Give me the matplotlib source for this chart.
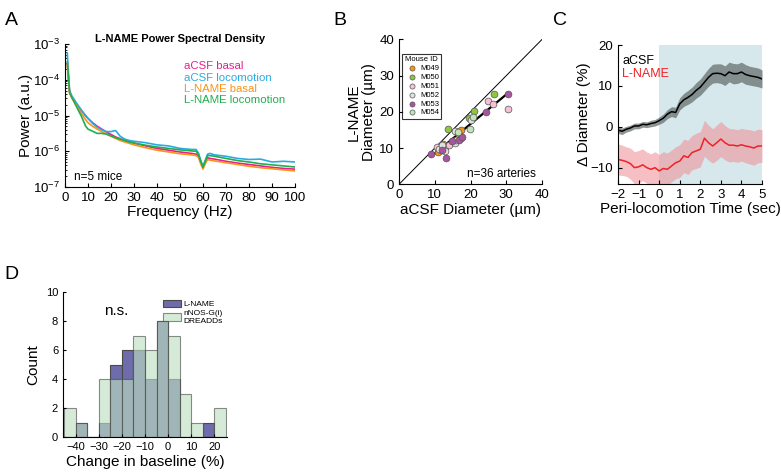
import matplotlib.pyplot as plt
import numpy as np

plt.rcParams['font.family'] = ['Liberation Sans', 'DejaVu Sans']
plt.rcParams['mathtext.default'] = 'regular'
plt.rcParams['xtick.direction'] = 'in'
plt.rcParams['ytick.direction'] = 'in'
plt.rcParams['axes.linewidth'] = 0.8

# ---- panel A: power spectral density (log10 power) ----
freq = [1, 2, 3, 4, 5, 6, 7, 8, 9, 10, 12, 14, 16, 18, 20, 22, 24, 26, 28, 30,
        35, 40, 45, 50, 55, 57, 58, 59, 60, 61, 62, 63, 65, 70, 75, 80, 85, 90, 95, 100]
acsf_basal = [-3.55, -4.35, -4.5, -4.6, -4.68, -4.78, -4.86, -4.93, -5.01, -5.08, -5.2, -5.3,
              -5.38, -5.46, -5.53, -5.6, -5.65, -5.7, -5.74, -5.77, -5.85, -5.92, -5.97, -6.02,
              -6.06, -6.08, -6.12, -6.3, -6.45, -6.3, -6.18, -6.2, -6.22, -6.28, -6.33, -6.37,
              -6.41, -6.45, -6.48, -6.5]
acsf_loco = [-3.25, -4.3, -4.45, -4.55, -4.65, -4.74, -4.83, -4.92, -5.0, -5.08, -5.22, -5.33,
             -5.4, -5.45, -5.45, -5.42, -5.58, -5.66, -5.7, -5.72, -5.76, -5.82, -5.85, -5.92,
             -5.95, -5.95, -6.05, -6.25, -6.42, -6.25, -6.08, -6.06, -6.1, -6.14, -6.2, -6.23,
             -6.22, -6.3, -6.28, -6.3]
lname_basal = [-3.55, -4.38, -4.5, -4.62, -4.72, -4.82, -4.92, -5.02, -5.12, -5.2, -5.3, -5.38,
               -5.45, -5.52, -5.58, -5.64, -5.7, -5.74, -5.78, -5.82, -5.9, -5.97, -6.02, -6.07,
               -6.1, -6.12, -6.17, -6.35, -6.5, -6.35, -6.23, -6.25, -6.27, -6.32, -6.37, -6.42,
               -6.46, -6.49, -6.52, -6.55]
lname_loco = [-3.5, -4.35, -4.5, -4.62, -4.75, -4.88, -5.0, -5.15, -5.3, -5.38, -5.44, -5.5,
              -5.5, -5.52, -5.57, -5.62, -5.66, -5.7, -5.74, -5.77, -5.83, -5.88, -5.92, -5.96,
              -5.99, -6.0, -6.08, -6.28, -6.45, -6.28, -6.12, -6.12, -6.14, -6.2, -6.26, -6.3,
              -6.35, -6.38, -6.41, -6.44]

# ---- panel B: artery diameters ----
mice = ['M049', 'M050', 'M051', 'M052', 'M053', 'M054']
mouse_colors = ['#F7941D', '#8DC63F', '#F7C0D5', '#E2E2E2', '#A8559F', '#C2E3B8']
acsf_diam = {
    'M049': [12.2, 10.9, 12.8, 16.2, 17.4, 16.9, 17.2],
    'M050': [13.7, 19.5, 20.9, 26.5],
    'M051': [10.6, 11.8, 14.1, 24.9, 26.3, 30.5, 15.0],
    'M052': [11.1, 12.8, 15.8, 16.0, 15.8, 20.2, 12.0],
    'M053': [9.0, 11.9, 13.1, 14.8, 16.9, 17.6, 24.4, 30.5],
    'M054': [16.5, 19.9, 20.6],
}
lname_diam = {
    'M049': [11.1, 9.0, 10.4, 14.5, 15.0, 13.6, 12.8],
    'M050': [15.4, 18.4, 20.3, 24.8],
    'M051': [10.3, 9.5, 10.8, 23.0, 22.1, 20.7, 12.0],
    'M052': [9.7, 9.3, 11.3, 12.2, 14.7, 17.7, 10.8],
    'M053': [8.4, 9.6, 7.3, 11.9, 12.2, 13.1, 20.0, 24.8],
    'M054': [14.5, 15.2, 18.6],
}

# ---- panel C: peri-locomotion diameter change ----
t = np.round(np.arange(-2, 5.01, 0.2), 1)
acsf_mean = [-0.8, -1.1, -0.6, -0.3, 0.2, 0.2, 0.6, 0.5, 0.8, 1.0, 1.5, 2.1, 3.1, 3.7, 3.5, 5.6,
             6.6, 7.2, 7.9, 8.9, 9.7, 10.9, 12.1, 13.0, 13.1, 13.0, 12.5, 13.4, 13.0, 13.0, 13.4,
             12.8, 12.5, 12.3, 12.1, 11.7]
acsf_sem = [0.8, 0.8, 0.7, 0.7, 0.7, 0.7, 0.7, 0.7, 0.8, 0.8, 0.9, 1.0, 1.1, 1.2, 1.3, 1.5, 1.6,
            1.7, 1.8, 1.9, 2.0, 2.1, 2.2, 2.3, 2.3, 2.4, 2.4, 2.4, 2.5, 2.4, 2.4, 2.4, 2.3, 2.3,
            2.3, 2.2]
lname_mean = [-8.0, -8.2, -8.5, -9.0, -10.0, -9.8, -9.3, -10.0, -10.4, -10.0, -10.8, -10.2,
              -10.4, -9.6, -8.8, -8.4, -7.1, -7.5, -6.3, -5.9, -5.5, -2.8, -3.9, -4.7, -3.9,
              -3.0, -3.9, -4.5, -4.5, -4.7, -4.4, -4.7, -4.9, -5.2, -4.7, -4.7]
lname_sem = [3.8, 3.7, 3.6, 3.8, 3.9, 4.0, 3.9, 3.8, 3.8, 3.9, 4.0, 4.1, 4.0, 3.9, 3.9, 4.0, 4.1,
             4.2, 4.2, 4.3, 4.3, 4.4, 4.3, 4.2, 4.3, 4.3, 4.2, 4.1, 4.0, 4.0, 4.0, 4.1, 4.2, 4.2,
             4.1, 4.0]

# ---- panel D: baseline change histogram ----
bin_left = [-45, -40, -35, -30, -25, -20, -15, -10, -5, 0, 5, 10, 15, 20]
lname_counts = [0, 1, 0, 1, 5, 6, 6, 4, 8, 4, 0, 0, 1, 0]
dreadd_counts = [2, 1, 0, 4, 4, 4, 7, 6, 8, 7, 3, 1, 0, 2]

fig = plt.figure(figsize=(7.81, 4.75), dpi=100)

# A
axA = fig.add_axes([0.0832, 0.6063, 0.2945, 0.301])
psd_colors = ['#EC1C8C', '#29ABE2', '#F7941D', '#1FAF4B']
psd_names = ['aCSF basal', 'aCSF locomotion', 'L-NAME basal', 'L-NAME locomotion']
for vals, c, name in zip([acsf_basal, acsf_loco, lname_basal, lname_loco], psd_colors, psd_names):
    axA.plot(freq, 10 ** np.array(vals), color=c, lw=1.2, label=name)
axA.set_yscale('log')
axA.set_ylim(1e-7, 1e-3)
axA.set_xlim(0, 100)
axA.set_xticks(range(0, 101, 10))
axA.set_yticks([1e-7, 1e-6, 1e-5, 1e-4, 1e-3])
axA.tick_params(labelsize=9.5, length=3)
axA.tick_params(which='minor', length=1.5)
axA.set_xlabel('Frequency (Hz)', fontsize=11, labelpad=1)
axA.set_ylabel('Power (a.u.)', fontsize=11, labelpad=0)
axA.set_title('L-NAME Power Spectral Density', fontsize=8, fontweight='bold', pad=0)
axA.legend(handlelength=0, handletextpad=0, labelcolor='linecolor', frameon=False,
           fontsize=8.2, loc='upper right', bbox_to_anchor=(1.0, 0.95), labelspacing=0.1)
axA.text(0.04, 0.05, 'n=5 mice', transform=axA.transAxes, fontsize=8.5)
for s in ['top', 'right']:
    axA.spines[s].set_visible(False)

# B
axB = fig.add_axes([0.5109, 0.612, 0.1831, 0.305])
axB.plot([0, 40], [0, 40], color='black', lw=0.7)
all_x = np.concatenate([acsf_diam[m] for m in mice])
all_y = np.concatenate([lname_diam[m] for m in mice])
slope, icpt = np.polyfit(all_x, all_y, 1)
xs = np.array([all_x.min(), all_x.max()])
axB.plot(xs, slope * xs + icpt, color='black', lw=1.6)
for m, c in zip(mice, mouse_colors):
    axB.scatter(acsf_diam[m], lname_diam[m], s=24, color=c, edgecolor='#555555',
                linewidth=0.5, zorder=3, label=m)
axB.set_xlim(0, 40)
axB.set_ylim(0, 40)
axB.set_xticks(range(0, 41, 10))
axB.set_yticks(range(0, 41, 10))
axB.tick_params(labelsize=9.5, length=3)
axB.set_xlabel('aCSF Diameter (\u00b5m)', fontsize=11, labelpad=1)
axB.set_ylabel('L-NAME\nDiameter (\u00b5m)', fontsize=11, labelpad=2)
leg = axB.legend(title='Mouse ID', fontsize=5.5, title_fontsize=5.5, loc='upper left',
                 bbox_to_anchor=(0.02, 0.9), handletextpad=0.1, labelspacing=0.2,
                 borderpad=0.3, markerscale=0.75, fancybox=False, edgecolor='black',
                 borderaxespad=0)
leg.get_frame().set_linewidth(0.8)
axB.text(0.96, 0.05, 'n=36 arteries', transform=axB.transAxes, fontsize=8.5, ha='right')
for s in ['top', 'right']:
    axB.spines[s].set_visible(False)

# C
axC = fig.add_axes([0.7913, 0.6126, 0.1844, 0.2926])
axC.axvspan(0, 5, color='#D6E8EC', zorder=0, lw=0)
am, asd = np.array(acsf_mean), np.array(acsf_sem)
lm, lsd = np.array(lname_mean), np.array(lname_sem)
axC.fill_between(t, lm - lsd, lm + lsd, color='#F08C94', alpha=0.55, lw=0)
axC.fill_between(t, am - asd, am + asd, color='#606868', alpha=0.7, lw=0)
axC.plot(t, lm, color='#EE2224', lw=1.1)
axC.plot(t, am, color='black', lw=1.1)
axC.set_xlim(-2, 5)
axC.set_ylim(-14, 20)
axC.set_xticks(range(-2, 6))
axC.set_yticks([-10, 0, 10, 20])
axC.tick_params(labelsize=9.5, length=3)
axC.set_xlabel('Peri-locomotion Time (sec)', fontsize=11, labelpad=1)
axC.set_ylabel('\u0394 Diameter (%)', fontsize=11, labelpad=0)
axC.text(0.03, 0.86, 'aCSF', transform=axC.transAxes, fontsize=9, color='black')
axC.text(0.03, 0.77, 'L-NAME', transform=axC.transAxes, fontsize=9, color='#EE2224')
for s in ['top', 'right']:
    axC.spines[s].set_visible(False)

# D
axD = fig.add_axes([0.0807, 0.08, 0.21, 0.305])
axD.bar(bin_left, lname_counts, width=5, align='edge', color='#6E6CAA',
        edgecolor='#4A4A4A', linewidth=0.8, label='L-NAME')
axD.bar(bin_left, dreadd_counts, width=5, align='edge', color='#BDE0C0', alpha=0.63,
        edgecolor='#4A4A4A', linewidth=0.8, label='nNOS-G(i)\nDREADDs')
axD.set_xlim(-45.5, 25.5)
axD.set_ylim(0, 10)
axD.set_xticks(range(-40, 21, 10))
axD.set_yticks(range(0, 11, 2))
axD.tick_params(labelsize=8, length=2)
axD.set_xlabel('Change in baseline (%)', fontsize=11, labelpad=2)
axD.set_ylabel('Count', fontsize=11, labelpad=4)
axD.text(0.25, 0.84, 'n.s.', transform=axD.transAxes, fontsize=11)
axD.legend(frameon=False, fontsize=6, loc='upper right', bbox_to_anchor=(1.02, 1.0),
           handlelength=2.2, handleheight=1.0, handletextpad=0.3, labelspacing=0.2)
for s in ['top', 'right']:
    axD.spines[s].set_visible(False)

# panel letters
for lbl, x, y in [('A', 0.006, 0.975), ('B', 0.427, 0.975), ('C', 0.708, 0.975),
                  ('D', 0.006, 0.44)]:
    fig.text(x, y, lbl, fontsize=14, va='top')

fig.savefig('out.png', dpi=100)
